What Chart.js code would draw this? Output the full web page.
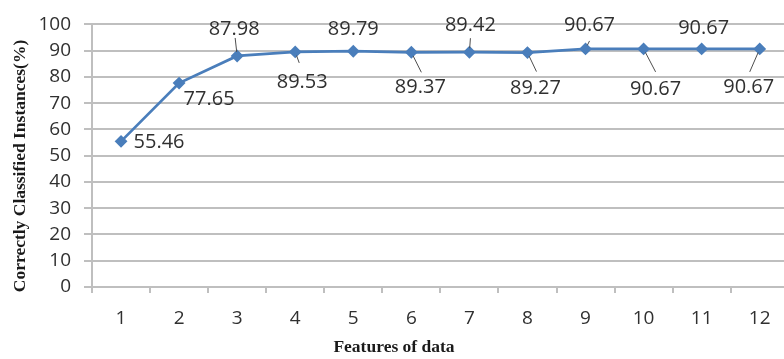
<!DOCTYPE html>
<html><head><meta charset="utf-8">
<script src="https://cdn.jsdelivr.net/npm/chart.js@4/dist/chart.umd.min.js"></script>
<style>html,body{margin:0;padding:0;background:#fff;overflow:hidden;width:784px;height:359px}canvas{display:block}</style>
</head><body>
<canvas id="c" width="796" height="359"></canvas>
<script>
const categories = ['1','2','3','4','5','6','7','8','9','10','11','12'];
const accuracy = [55.46, 77.65, 87.98, 89.53, 89.79, 89.37, 89.42, 89.27, 90.67, 90.67, 90.67, 90.67];
const yTicks = [0, 10, 20, 30, 40, 50, 60, 70, 80, 90, 100];
const xTitle = 'Features of data';
const yTitle = 'Correctly Classified Instances(%)';

// label placement (pixel offsets from each point) and leader-line end offsets
const labelOffsets = [[38,1],[30,16],[-3,-27],[7,30],[0,-22],[9,35],[1,-27],[8,36],[4,-24],[12,40],[2,-21],[-11,38]];
const leaderEnds = [null,null,[-2,-18],[4,11],null,[10,20],[1,-14],[9,19],[4,-8],[12,23],null,[-10,23]];

const TEXT = '#303030';
const BLUE = '#4A7EBB';
const GRID = '#BFBFBF';

const labelPlugin = {
  id: 'valueLabels',
  afterDatasetsDraw(chart) {
    const ctx = chart.ctx;
    const meta = chart.getDatasetMeta(0);
    ctx.save();
    meta.data.forEach((el, i) => {
      const le = leaderEnds[i];
      if (le) {
        const len = Math.hypot(le[0], le[1]);
        const sx = el.x + le[0] / len * 4, sy = el.y + le[1] / len * 4;
        ctx.strokeStyle = '#4d4d4d';
        ctx.lineWidth = 1;
        ctx.beginPath();
        ctx.moveTo(sx, sy);
        ctx.lineTo(el.x + le[0], el.y + le[1]);
        ctx.stroke();
      }
      const off = labelOffsets[i];
      ctx.fillStyle = TEXT;
      ctx.font = '20px "Open Sans"';
      ctx.textAlign = 'center';
      ctx.textBaseline = 'middle';
      ctx.fillText(accuracy[i].toFixed(2), el.x + off[0], el.y + off[1]);
    });
    ctx.restore();
  }
};

const titlePlugin = {
  id: 'axisTitles',
  afterDraw(chart) {
    const ctx = chart.ctx;
    ctx.save();
    ctx.fillStyle = '#1a1a1a';
    ctx.font = 'bold 17.5px "Liberation Serif"';
    ctx.textAlign = 'center';
    ctx.textBaseline = 'middle';
    ctx.fillText(xTitle, 394, 347);
    ctx.translate(20, 166);
    ctx.rotate(-Math.PI / 2);
    ctx.fillText(yTitle, 0, 0);
    ctx.restore();
  }
};

new Chart(document.getElementById('c'), {
  type: 'line',
  data: {
    labels: categories,
    datasets: [{
      data: accuracy,
      borderColor: BLUE,
      backgroundColor: BLUE,
      borderWidth: 2.75,
      pointStyle: 'rectRot',
      pointRadius: 4.5,
      pointBackgroundColor: BLUE,
      pointBorderColor: BLUE,
      tension: 0
    }]
  },
  options: {
    responsive: false,
    animation: false,
    devicePixelRatio: 1,
    layout: { padding: { top: 24, right: 1, left: 0, bottom: 0 } },
    plugins: { legend: { display: false }, tooltip: { enabled: false } },
    scales: {
      x: {
        offset: true,
        afterFit(s) { s.height = 72; },
        grid: { offset: true, drawOnChartArea: false, drawTicks: true, tickLength: 6, color: GRID, lineWidth: 2 },
        border: { color: GRID, width: 2 },
        ticks: { color: TEXT, font: { family: 'Open Sans', size: 19 }, padding: 14, maxRotation: 0 }
      },
      y: {
        min: 0, max: 100,
        afterFit(s) { s.width = 92; },
        afterBuildTicks(s) { s.ticks = yTicks.map(v => ({ value: v })); },
        grid: { color: GRID, lineWidth: 2, tickLength: 8 },
        border: { color: GRID, width: 2 },
        ticks: { color: TEXT, font: { family: 'Open Sans', size: 19 }, padding: 13 }
      }
    }
  },
  plugins: [labelPlugin, titlePlugin]
});
</script>
</body></html>
